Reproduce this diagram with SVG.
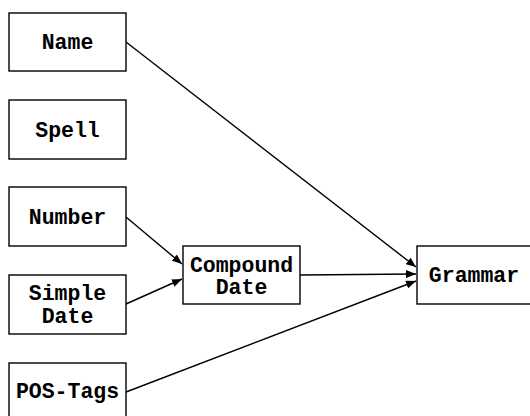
<svg xmlns="http://www.w3.org/2000/svg" width="530" height="416" viewBox="0 0 530 416">
<style>
.box{fill:#fff;stroke:#000;stroke-width:1.4}
.lbl{font-family:"Liberation Mono","Courier New",monospace;font-weight:bold;font-size:21.5px;text-anchor:middle;fill:#000}
.edge{stroke:#000;stroke-width:1.4;fill:none;marker-end:url(#ah)}
</style>
<defs>
<marker id="ah" viewBox="0 0 10 8" refX="10" refY="4" markerWidth="10" markerHeight="8" markerUnits="userSpaceOnUse" orient="auto">
<path d="M0,0 L10,4 L0,8 Z" fill="#000"/>
</marker>
</defs>
<rect width="530" height="416" fill="#fff"/>
<g id="connectors">
<line class="edge" x1="126" y1="42" x2="416" y2="267"/>
<line class="edge" x1="126" y1="217" x2="182" y2="264"/>
<line class="edge" x1="126" y1="304" x2="182" y2="279"/>
<line class="edge" x1="300" y1="275" x2="416" y2="274"/>
<line class="edge" x1="126" y1="392" x2="416" y2="281"/>
</g>
<g id="name"><rect class="box" x="9" y="13" width="117" height="58"/><text class="lbl" x="67.5" y="49">Name</text></g>
<g id="spell"><rect class="box" x="9" y="100" width="117" height="59"/><text class="lbl" x="67.5" y="137">Spell</text></g>
<g id="number"><rect class="box" x="9" y="187" width="117" height="59"/><text class="lbl" x="67.5" y="224">Number</text></g>
<g id="simple-date"><rect class="box" x="9" y="275" width="117" height="59"/><text class="lbl" x="67.5" y="300">Simple</text><text class="lbl" x="67.5" y="323">Date</text></g>
<g id="pos-tags"><rect class="box" x="9" y="363" width="117" height="58"/><text class="lbl" x="67.5" y="398">POS-Tags</text></g>
<g id="compound-date"><rect class="box" x="183" y="246" width="117" height="58"/><text class="lbl" x="241.5" y="272">Compound</text><text class="lbl" x="241.5" y="294">Date</text></g>
<g id="grammar"><rect class="box" x="417" y="246" width="117" height="58"/><text class="lbl" x="474" y="282">Grammar</text></g>
</svg>
